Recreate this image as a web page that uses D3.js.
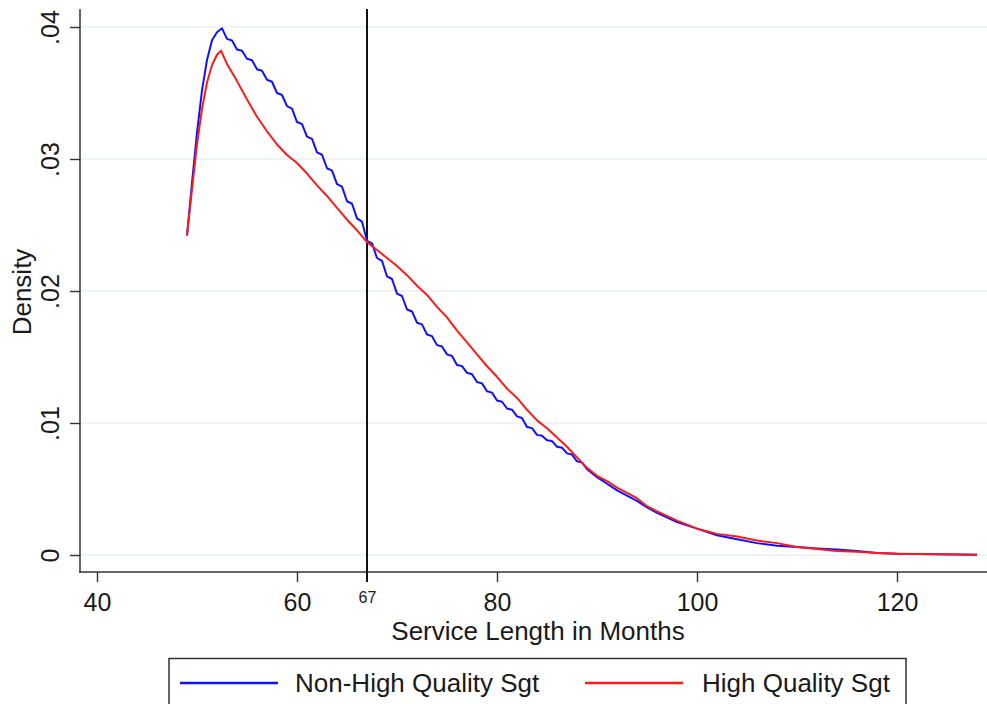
<!DOCTYPE html>
<html>
<head>
<meta charset="utf-8">
<script src="https://cdn.jsdelivr.net/npm/d3@7"></script>
<style>
  body { margin: 0; background: #fff; }
  text { font-family: 'Liberation Sans', Arial, sans-serif; fill: #1a1a1a; }
</style>
</head>
<body>
<div id="chart"></div>
<script>
const xTicks = [40, 60, 80, 100, 120];
const yTicks = [0, 0.01, 0.02, 0.03, 0.04];
const yTickLabels = ['0', '.01', '.02', '.03', '.04'];
const cutoff = 67;

// Non-High Quality Sgt
const blueMonths = [49,49.5,50,50.5,51,51.5,52,52.5,53,53.5,54,54.5,55,55.5,56,56.5,57,57.5,58,58.5,
  59,59.5,60,60.5,61,61.5,62,62.5,63,63.5,64,64.5,65,65.5,66,66.5,67,67.5,68,68.5,
  69,69.5,70,70.5,71,71.5,72,72.5,73,73.5,74,74.5,75,75.5,76,76.5,77,77.5,78,78.5,
  79,79.5,80,80.5,81,81.5,82,82.5,83,83.5,84,84.5,85,85.5,86,86.5,87,87.5,88,88.5,
  89,90,91,92,93,94,95,96,98,100,102,104,106,108,110,112,114,116,118,120,124,128];
const blueDensity = [0.0242,0.0282,0.0320,0.0352,0.0375,0.0390,0.0396,0.0399,0.0391,0.03898,0.0383,0.03820,0.0376,0.03748,0.0368,0.03668,0.0360,0.03585,0.0350,0.03485,
  0.0340,0.03382,0.0328,0.03264,0.0317,0.03152,0.0305,0.03032,0.0293,0.02912,0.0281,0.02791,0.0268,0.02661,0.0255,0.02525,0.0238,0.02361,0.0225,0.02229,
  0.0211,0.02091,0.0198,0.01962,0.0186,0.01845,0.0176,0.01747,0.0167,0.01658,0.0159,0.01580,0.0152,0.01508,0.0144,0.01431,0.0138,0.01370,0.0131,0.01300,
  0.0124,0.01230,0.0117,0.01161,0.0111,0.01101,0.0105,0.01038,0.0097,0.00961,0.0091,0.00904,0.0087,0.00863,0.0082,0.00813,0.0077,0.00761,0.0071,0.00701,
  0.0065,0.0059,0.0054,0.0049,0.0045,0.0041,0.0036,0.0032,0.0025,0.0020,0.0015,0.0012,0.0009,0.0007,0.0006,0.0005,0.00042,0.0003,0.00016,0.0001,0.00005,0.00002];

// High Quality Sgt
const redMonths = [49,49.5,50,50.5,51,51.5,52,52.4,53,54,55,56,57,58,59,60,61,62,63,64,65,66,67,68,69,70,
  71,72,73,74,75,76,77,78,79,80,81,82,83,84,85,86,87,88,89,90,91,92,93,94,95,96,98,100,
  102,104,106,108,110,112,114,116,118,120,124,128];
const redDensity = [0.0242,0.0277,0.0311,0.0338,0.0358,0.0371,0.0379,0.0382,0.0372,0.0359,0.0345,0.0332,0.0321,0.0311,0.0303,0.0297,0.0289,0.0280,0.0272,0.0263,0.0254,0.0246,0.0237,0.0231,0.0225,0.0219,
  0.0212,0.0204,0.0197,0.0188,0.0180,0.0170,0.0161,0.0152,0.0143,0.0135,0.0126,0.0119,0.0110,0.0102,0.0096,0.0089,0.0082,0.0074,0.0066,0.0060,0.0056,0.0051,0.0047,0.0043,0.0037,0.0033,0.0026,0.0020,
  0.0016,0.0014,0.0011,0.0009,0.0006,0.00045,0.0003,0.00025,0.00015,0.0001,0.00006,0.00002];

const seriesNames = ['Non-High Quality Sgt', 'High Quality Sgt'];
const seriesColors = ['#1010ff', '#ff1a1a'];

const width = 987, height = 704;
const svg = d3.select('#chart').append('svg')
  .attr('width', width).attr('height', height);

const x = d3.scaleLinear().domain([40, 120]).range([97, 897]);
const y = d3.scaleLinear().domain([0, 0.04]).range([555, 27]);
const plotLeft = 80, plotRight = 987, plotTop = 9, plotBottom = 572;

// gridlines
svg.append('g')
  .selectAll('line')
  .data(yTicks)
  .join('line')
  .attr('x1', plotLeft).attr('x2', plotRight)
  .attr('y1', d => y(d)).attr('y2', d => y(d))
  .attr('stroke', '#e8f0f1').attr('stroke-width', 1.6);

// y axis
const gy = svg.append('g')
  .attr('transform', `translate(${plotLeft},0)`)
  .call(d3.axisLeft(y).tickValues(yTicks).tickSize(10).tickFormat((d, i) => yTickLabels[i]))
  .call(g => g.select('.domain').remove());
gy.selectAll('.tick line').attr('stroke', '#333').attr('stroke-width', 1.4);
gy.selectAll('.tick text')
  .attr('font-size', 25)
  .attr('transform', 'rotate(-90)')
  .attr('x', 0).attr('y', -21).attr('dy', 0)
  .attr('text-anchor', 'middle');
svg.append('line')
  .attr('x1', plotLeft).attr('x2', plotLeft)
  .attr('y1', plotTop).attr('y2', plotBottom + 0.7)
  .attr('stroke', '#333').attr('stroke-width', 1.5);

// x axis
const gx = svg.append('g')
  .attr('transform', `translate(0,${plotBottom})`)
  .call(d3.axisBottom(x).tickValues(xTicks).tickSize(10).tickFormat(d3.format('d')))
  .call(g => g.select('.domain').remove());
gx.selectAll('.tick line').attr('stroke', '#333').attr('stroke-width', 1.4);
gx.selectAll('.tick text').attr('font-size', 25).attr('y', 39).attr('dy', 0);
svg.append('line')
  .attr('x1', plotLeft - 0.7).attr('x2', plotRight)
  .attr('y1', plotBottom).attr('y2', plotBottom)
  .attr('stroke', '#333').attr('stroke-width', 1.5);

// cutoff label
const gc = svg.append('g')
  .attr('transform', `translate(0,${plotBottom})`)
  .call(d3.axisBottom(x).tickValues([cutoff]).tickSize(0).tickFormat(d3.format('d')))
  .call(g => g.select('.domain').remove());
gc.selectAll('.tick text').attr('font-size', 16).attr('y', 31).attr('dy', 0);

// cutoff line
svg.append('line')
  .attr('x1', x(cutoff)).attr('x2', x(cutoff))
  .attr('y1', plotTop).attr('y2', plotBottom + 10)
  .attr('stroke', '#111').attr('stroke-width', 2);

// axis titles
svg.append('text')
  .attr('x', 538).attr('y', 640)
  .attr('text-anchor', 'middle').attr('font-size', 26)
  .text('Service Length in Months');
svg.append('text')
  .attr('transform', 'translate(31,292) rotate(-90)')
  .attr('text-anchor', 'middle').attr('font-size', 26)
  .text('Density');

// curves
const line = d3.line().x(d => x(d[0])).y(d => y(d[1]));
const series = [
  d3.zip(blueMonths, blueDensity),
  d3.zip(redMonths, redDensity)
];
svg.append('g')
  .selectAll('path')
  .data(series)
  .join('path')
  .attr('d', line)
  .attr('fill', 'none')
  .attr('stroke', (d, i) => seriesColors[i])
  .attr('stroke-width', 2)
  .attr('stroke-linejoin', 'round');

// legend
const legend = svg.append('g');
legend.append('rect')
  .attr('x', 169).attr('y', 658.5)
  .attr('width', 737).attr('height', 60)
  .attr('fill', '#fff').attr('stroke', '#333').attr('stroke-width', 1.5);
const legendX = [180, 585];
const item = legend.selectAll('g.item')
  .data(seriesNames)
  .join('g')
  .attr('class', 'item')
  .attr('transform', (d, i) => `translate(${legendX[i]},683)`);
item.append('line')
  .attr('x1', 0).attr('x2', 98)
  .attr('stroke', (d, i) => seriesColors[i]).attr('stroke-width', 2.5);
item.append('text')
  .attr('x', (d, i) => i === 0 ? 115 : 117).attr('y', 9)
  .attr('font-size', 26)
  .text(d => d);
</script>
</body>
</html>
